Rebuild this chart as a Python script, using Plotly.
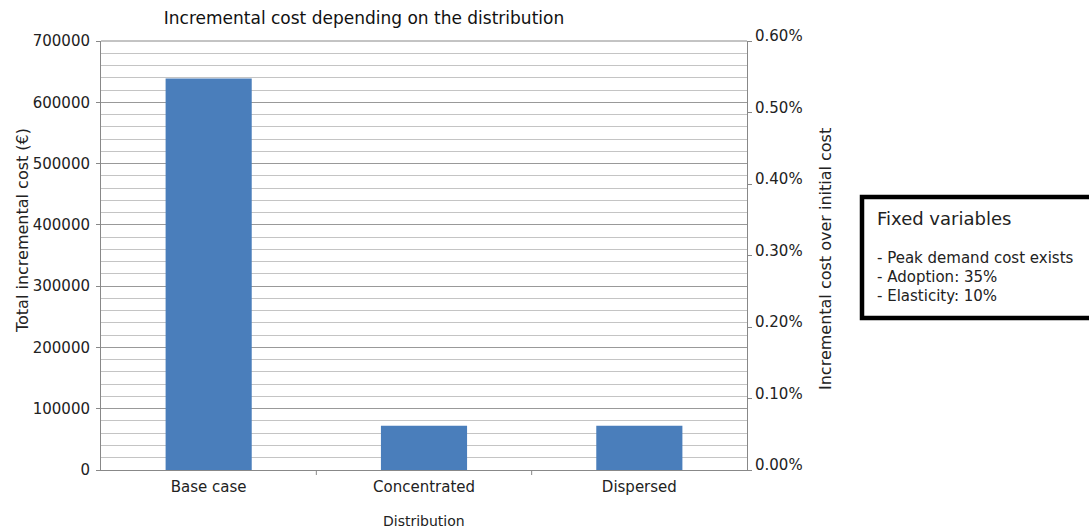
import plotly.graph_objects as go

categories = ["Base case", "Concentrated", "Dispersed"]
total_cost = [639000, 72000, 72000]
y_ticks = [0, 100000, 200000, 300000, 400000, 500000, 600000, 700000]
pct_ticks = [0, 0.001, 0.002, 0.003, 0.004, 0.005, 0.006]
box_title = "Fixed variables"
box_lines = ["- Peak demand cost exists", "- Adoption: 35%", "- Elasticity: 10%"]

font = "DejaVu Sans, Verdana, sans-serif"

L, R, T, B = 101, 747, 41, 470
W, H = R - L, B - T


def px(x):
    return (x - L) / W


def py(y):
    return (B - y) / H


fig = go.Figure()
fig.add_trace(go.Bar(x=categories, y=total_cost, marker=dict(color="#4a7ebb", line=dict(width=0)),
                     width=0.4, showlegend=False, hoverinfo="y"))
fig.add_trace(go.Scatter(x=categories, y=[None, None, None], yaxis="y2", showlegend=False,
                         mode="markers", hoverinfo="skip"))

fig.update_layout(
    width=1089, height=528,
    margin=dict(l=L, r=1089 - R, t=T, b=528 - B),
    paper_bgcolor="white", plot_bgcolor="white",
    font=dict(family=font, size=15, color="#222"),
    title=dict(text="Incremental cost depending on the distribution", x=364 / 1089, xanchor="center",
               y=1 - 18 / 528, yanchor="middle", font=dict(size=17, color="#111")),
    xaxis=dict(showgrid=False, showline=True, linecolor="#888", linewidth=1, automargin=False,
               ticks="", tickfont=dict(size=15), range=[-0.5, 2.5], ticklabelstandoff=3),
    yaxis=dict(range=[0, 700000], tickvals=y_ticks, ticktext=[str(v) for v in y_ticks],
               showgrid=True, gridcolor="#999", gridwidth=1, automargin=False,
               minor=dict(dtick=20000, showgrid=True, gridcolor="#c4c4c4", gridwidth=1),
               showline=True, linecolor="#888", ticks="outside", ticklen=4, tickcolor="#888",
               zeroline=False, tickfont=dict(size=15), ticklabelstandoff=3),
    yaxis2=dict(overlaying="y", side="right", range=[0, 0.006], tickvals=pct_ticks,
                tickformat=".2%", showgrid=False, showline=True, linecolor="#888", zeroline=False,
                automargin=False, ticks="outside", ticklen=4, tickcolor="#888",
                tickfont=dict(size=15), ticklabelshift=-5),
    bargap=0.6,
)

# top border of the plot area (700000 gridline)
fig.add_shape(type="line", xref="paper", yref="paper", x0=0, x1=1, y0=1, y1=1,
              line=dict(color="#888", width=1))

# axis titles
fig.add_annotation(xref="paper", yref="paper", x=px(22), y=py(231), text="Total incremental cost (€)",
                   textangle=-90, showarrow=False, xanchor="center", yanchor="middle",
                   font=dict(size=16, color="#222"))
fig.add_annotation(xref="paper", yref="paper", x=px(825), y=py(259),
                   text="Incremental cost over initial cost", xanchor="center", yanchor="middle",
                   textangle=-90, showarrow=False, font=dict(size=16, color="#222"))
fig.add_annotation(xref="paper", yref="paper", x=px(424), y=py(521), text="Distribution",
                   xanchor="center", yanchor="middle",
                   showarrow=False, font=dict(size=14, color="#222"))

# category separator tick marks
for xb in [0.5, 1.5]:
    fig.add_shape(type="line", xref="x", yref="paper", x0=xb, x1=xb, y0=0, y1=-5 / H,
                  line=dict(color="#888", width=1))

# fixed-variables box
fig.add_shape(type="rect", xref="paper", yref="paper",
              x0=px(862), x1=px(1092), y0=py(318), y1=py(197),
              line=dict(color="black", width=4.5), fillcolor="white", layer="above")
fig.add_annotation(xref="paper", yref="paper", x=px(875), y=py(218),
                   text=box_title, showarrow=False, xanchor="left", yanchor="middle",
                   font=dict(size=18, color="#222"))
for i, line in enumerate(box_lines):
    fig.add_annotation(xref="paper", yref="paper", x=px(875), y=py(258 + 19 * i),
                       text=line, showarrow=False, xanchor="left", yanchor="middle",
                       font=dict(size=15, color="#222"))

fig.write_html("out.html")
